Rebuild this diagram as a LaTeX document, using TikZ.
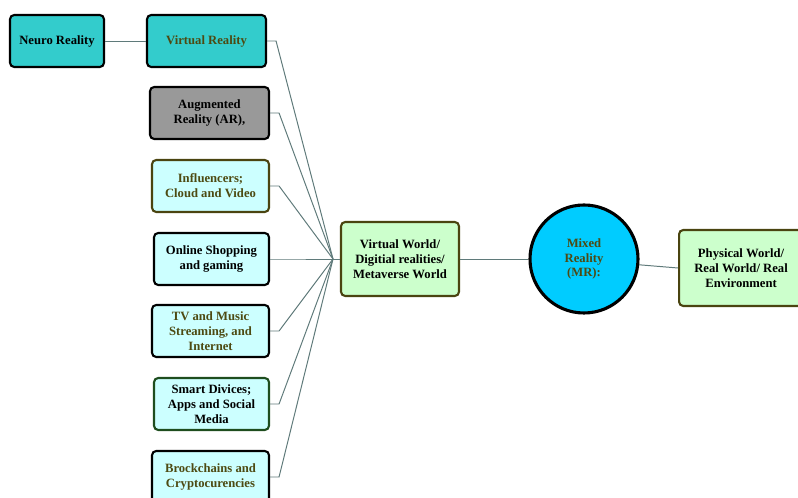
\documentclass[tikz,border=0pt]{standalone}
\usepackage{fontspec}
\setmainfont{Liberation Serif}
\usepackage{tikz}
\usetikzlibrary{positioning}
\definecolor{TealFill}{HTML}{33CCCC}
\definecolor{GreyFill}{HTML}{999999}
\definecolor{CyanFill}{HTML}{CCFFFF}
\definecolor{MintFill}{HTML}{CCFFCC}
\definecolor{SkyFill}{HTML}{00CCFF}
\definecolor{OliveText}{HTML}{4D4A12}
\definecolor{OliveBorder}{HTML}{4A4410}
\definecolor{GreenBorder}{HTML}{1E4D1E}
\definecolor{LinkColor}{HTML}{5F7A7A}
\newcommand{\bx}{\fontsize{9}{10.5}\selectfont\bfseries}

\begin{document}
\begin{tikzpicture}[x=0.025cm, y=-0.025cm,
  box/.style={draw=black, line width=1.5pt, rounded corners=3pt, align=center, font=\bx, inner sep=0pt},
  leftbox/.style={box, fill=CyanFill, minimum width=115*0.025cm, minimum height=52*0.025cm},
  link/.style={draw=LinkColor, line width=0.7pt}]
  \useasboundingbox (0,0) rectangle (798,498);

  % Top row
  \node[box, fill=TealFill, minimum width=94*0.025cm, minimum height=52*0.025cm] (neuro) at (57,41) {Neuro Reality};
  \node[box, fill=TealFill, text=OliveText, minimum width=119*0.025cm, minimum height=52*0.025cm] (vr) at (206.5,41) {Virtual Reality};

  % Left column
  \node[leftbox, fill=GreyFill, minimum width=119*0.025cm] (ar) at (209.5,113) {Augmented\\Reality (AR),};
  \node[leftbox, draw=OliveBorder, text=OliveText, minimum width=117*0.025cm] (cloud) at (210.5,186) {Influencers;\\Cloud and Video};
  \node[leftbox] (shop) at (211.5,259) {Online Shopping\\and gaming};
  \node[leftbox, text=OliveText, minimum width=117*0.025cm] (tv) at (210.5,331) {TV and Music\\Streaming, and\\Internet};
  \node[leftbox, draw=GreenBorder] (smart) at (211.5,404) {Smart Divices;\\Apps and Social\\Media};
  \node[leftbox, text=OliveText, minimum width=117*0.025cm] (chain) at (210.5,477) {Brockchains and\\Cryptocurencies};

  % Centre and right
  \node[box, draw=OliveBorder, fill=MintFill, minimum width=118*0.025cm, minimum height=74*0.025cm] (vw) at (400,259) {Virtual World/\\Digitial realities/\\Metaverse World};
  \node[circle, draw=black, line width=2.2pt, fill=SkyFill, text=OliveText, font=\bx, align=center, minimum size=108*0.025cm, inner sep=0pt] (mr) at (584,259) {Mixed\\Reality\\(MR):};
  \node[box, draw=OliveBorder, fill=MintFill, minimum width=124*0.025cm, minimum height=76*0.025cm, anchor=west] (pw) at (678,268) {Physical World/\\Real World/ Real\\Environment};

  % Links
  \coordinate (hub) at (333,259);
  \draw[link] (neuro) -- (vr);
  \foreach \n in {vr,ar,cloud,shop,tv,smart,chain}
    \draw[link] (\n.east) -- ++(9,0) -- (hub);
  \draw[link] (hub) -- (vw.west);
  \draw[link] (vw) -- (mr);
  \draw[link] (mr.-6) -- (pw.west);
\end{tikzpicture}
\end{document}
